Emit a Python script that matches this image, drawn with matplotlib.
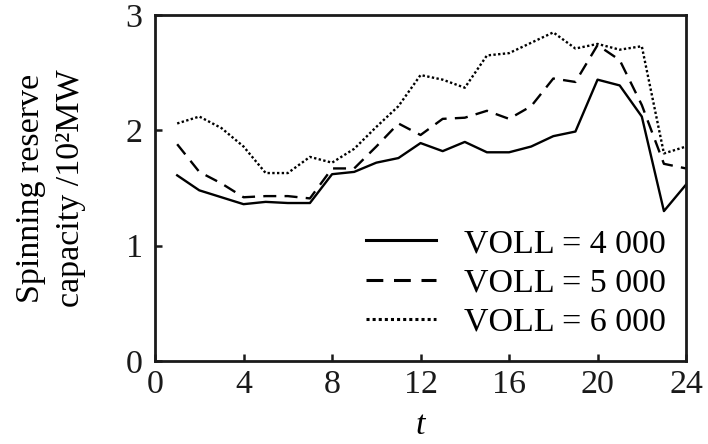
import numpy as np
import matplotlib.pyplot as plt

# hours
t = np.arange(1, 25)

# spinning reserve capacity, 10^2 MW
voll_4000 = [1.61, 1.48, 1.42, 1.36, 1.38, 1.37, 1.37, 1.62, 1.64, 1.72, 1.76, 1.89,
             1.82, 1.90, 1.81, 1.81, 1.86, 1.95, 1.99, 2.44, 2.39, 2.12, 1.30, 1.53]
voll_5000 = [1.88, 1.64, 1.54, 1.42, 1.43, 1.43, 1.41, 1.67, 1.67, 1.86, 2.06, 1.96,
             2.10, 2.11, 2.17, 2.10, 2.21, 2.45, 2.42, 2.74, 2.61, 2.22, 1.71, 1.67]
voll_6000 = [2.06, 2.12, 2.02, 1.86, 1.63, 1.63, 1.77, 1.72, 1.84, 2.03, 2.21, 2.48,
             2.44, 2.37, 2.65, 2.67, 2.76, 2.85, 2.71, 2.75, 2.70, 2.73, 1.80, 1.86]

labels = ["VOLL = 4 000", "VOLL = 5 000", "VOLL = 6 000"]
xticks = [0, 4, 8, 12, 16, 20, 24]
yticks = [0, 1, 2, 3]

plt.rcParams['font.family'] = ['Liberation Serif', 'DejaVu Serif']
fs = 24.5

fig = plt.figure(figsize=(7.08, 4.44), dpi=100)
ax = fig.add_axes([0.219, 0.187, 0.75, 0.779])

ax.plot(t, voll_4000, color='black', lw=1.7, ls='-', label=labels[0])
ax.plot(t, voll_5000, color='black', lw=1.7, ls=(0, (5.5, 3.5)), label=labels[1])
ax.plot(t, voll_6000, color='black', lw=1.7, ls=(0, (1, 1)), label=labels[2])

ax.set_xlim(0, 24)
ax.set_ylim(0, 3)
ax.set_xticks(xticks)
ax.set_yticks(yticks)
ax.tick_params(direction='in', length=5, width=1.8, labelsize=fs, colors='#1a1a1a')
ax.tick_params(axis='x', pad=6)
ax.tick_params(axis='y', pad=9)
for s in ax.spines.values():
    s.set_linewidth(2)
    s.set_color('#1a1a1a')

ax.set_xlabel("t", fontsize=fs, style='italic', labelpad=8)
ax.set_ylabel("Spinning reserve\ncapacity /10²MW", fontsize=fs, linespacing=1.4)
ax.yaxis.label.set_va('center')
ax.yaxis.set_label_coords(-0.196, 0.5)

leg = ax.legend(loc='lower right', bbox_to_anchor=(0.962, 0.067), frameon=False,
                fontsize=fs, handlelength=2.06, handletextpad=0.82,
                labelspacing=0.25, borderpad=0, borderaxespad=0)
for h in leg.get_lines():
    h.set_linewidth(2.2)

fig.savefig("out.png", dpi=100)
